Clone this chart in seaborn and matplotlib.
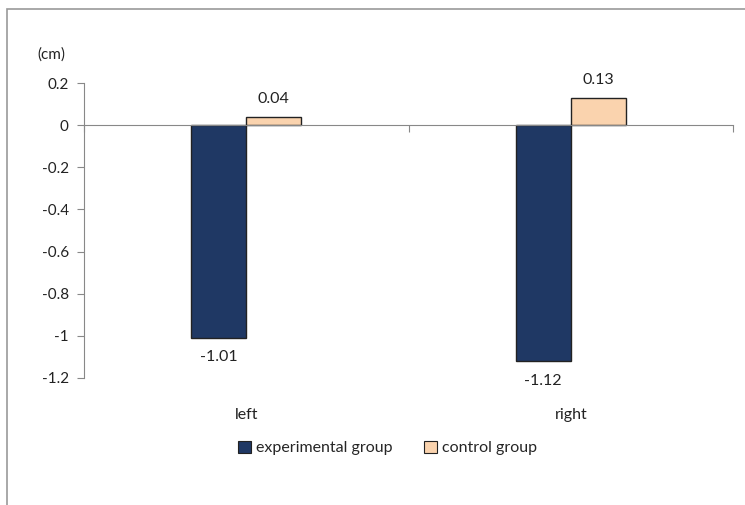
import matplotlib
matplotlib.use("Agg")
import matplotlib.pyplot as plt
import matplotlib.transforms as mtransforms
from matplotlib.patches import Rectangle, Patch
import seaborn as sns
import pandas as pd

# Data
sides = ["left", "right"]
groups = ["experimental group", "control group"]
experimental = [-1.01, -1.12]
control = [0.04, 0.13]
y_ticks = [0.2, 0, -0.2, -0.4, -0.6, -0.8, -1, -1.2]

colors = {"experimental group": "#1F3864", "control group": "#FAD3AE"}

df = pd.DataFrame({
    "side": sides * 2,
    "group": [groups[0]] * 2 + [groups[1]] * 2,
    "value": experimental + control,
})

sns.set_theme(style="white")
plt.rcParams["font.family"] = ["Lato", "DejaVu Sans"]

fig = plt.figure(figsize=(7.45, 5.05), dpi=100)
ax = fig.add_axes([0.1128, 0.2515, 0.8712, 0.5841])

sns.barplot(data=df, x="side", y="value", hue="group", order=sides,
            hue_order=groups, palette=colors, width=0.34, gap=0,
            edgecolor="#222222", linewidth=1.0, saturation=1,
            legend=False, ax=ax)

ax.set_xlim(-0.5, 1.5)
ax.set_ylim(-1.2, 0.2)
ax.set_yticks(y_ticks)
ax.set_yticklabels([f"{t:g}" for t in y_ticks], fontsize=11, color="#222222")
ax.tick_params(axis="y", direction="out", length=5, width=0.8, color="#888888",
               left=True, pad=6)

# Zero baseline with category separators
for s in ["top", "right"]:
    ax.spines[s].set_visible(False)
ax.spines["left"].set_color("#888888")
ax.spines["left"].set_linewidth(0.8)
ax.spines["bottom"].set_position(("data", 0))
ax.spines["bottom"].set_color("#888888")
ax.spines["bottom"].set_linewidth(0.8)
ax.set_xticks([-0.5, 0.5, 1.5])
ax.set_xticklabels([])
ax.tick_params(axis="x", direction="out", length=5, width=0.8, color="#888888",
               bottom=True)
ax.set_xlabel("")
ax.set_ylabel("")

# Category names below the plot area
trans = mtransforms.blended_transform_factory(ax.transData, ax.transAxes)
for i, name in enumerate(sides):
    ax.text(i, -0.125, name, transform=trans, ha="center", va="center",
            fontsize=11.5, color="#222222")

# Value labels
for container in ax.containers:
    for bar in container:
        h = bar.get_height()
        xc = bar.get_x() + bar.get_width() / 2
        if h >= 0:
            ax.annotate(f"{h:.2f}", (xc, h), xytext=(0, 8),
                        textcoords="offset points", ha="center", va="bottom",
                        fontsize=11.5, color="#222222")
        else:
            ax.annotate(f"{h:.2f}", (xc, h), xytext=(0, -9),
                        textcoords="offset points", ha="center", va="top",
                        fontsize=11.5, color="#222222")

# Unit label
fig.text(37 / 745, 1 - 55 / 505, "(cm)", fontsize=11, color="#222222",
         ha="left", va="center")

# Legend
handles = [Patch(facecolor=colors[g], edgecolor="#222222", linewidth=0.8, label=g)
           for g in groups]
fig.legend(handles=handles, loc="center", bbox_to_anchor=(0.52, 1 - 448 / 505),
           ncol=2, frameon=False, fontsize=11.5, handlelength=0.8,
           handleheight=0.8, handletextpad=0.3, columnspacing=2.0)

# Outer chart frame
fig.patches.append(Rectangle((7 / 745, -0.1), 1.2, 1.1 - 9 / 505,
                             transform=fig.transFigure, fill=False,
                             edgecolor="#999999", linewidth=1.2))

fig.savefig("out.png", dpi=100)
